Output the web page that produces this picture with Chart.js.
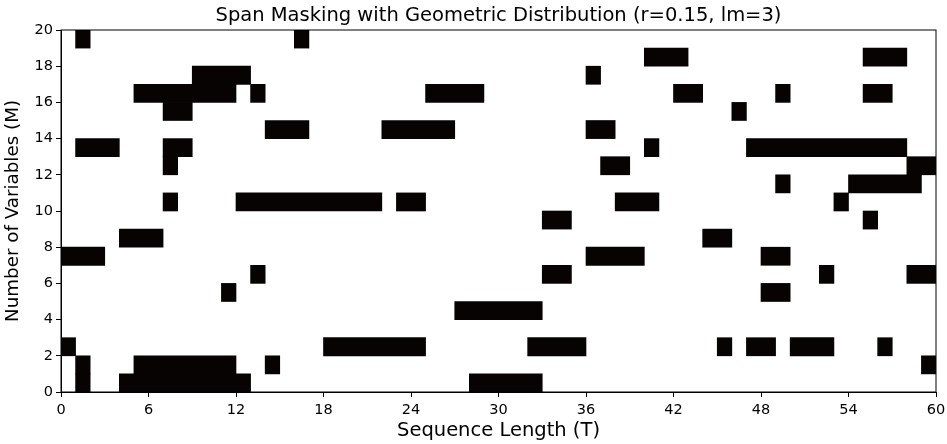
<!DOCTYPE html>
<html>
<head>
<meta charset="utf-8">
<script src="https://cdn.jsdelivr.net/npm/chart.js@4/dist/chart.umd.min.js"></script>
<style>
  body { margin: 0; background: #fff; }
  #wrap { width: 947px; height: 444px; }
</style>
</head>
<body>
<div id="wrap"><canvas id="chart" width="947" height="444"></canvas></div>
<script>
// masked spans: row (variable index), start column, end column (exclusive)
const spanRow   = [19, 19, 18, 18, 17, 17, 16, 16, 16, 16, 16, 16, 15, 15, 14, 14, 14, 13, 13, 13, 13, 12, 12, 12, 11, 11, 10, 10, 10, 10, 10, 9, 9, 8, 8, 7, 7, 7, 6, 6, 6, 6, 5, 5, 4, 2, 2, 2, 2, 2, 2, 2, 1, 1, 1, 1, 0, 0, 0];
const spanStart = [1, 16, 40, 55, 9, 36, 5, 13, 25, 42, 49, 55, 7, 46, 14, 22, 36, 1, 7, 40, 47, 7, 37, 58, 49, 54, 7, 12, 23, 38, 53, 33, 55, 4, 44, 0, 36, 48, 13, 33, 52, 58, 11, 48, 27, 0, 18, 32, 45, 47, 50, 56, 1, 5, 14, 59, 1, 4, 28];
const spanEnd   = [2, 17, 43, 58, 13, 37, 12, 14, 29, 44, 50, 57, 9, 47, 17, 27, 38, 4, 9, 41, 58, 8, 39, 60, 50, 59, 8, 22, 25, 41, 54, 35, 56, 7, 46, 3, 40, 50, 14, 35, 53, 60, 12, 50, 33, 1, 25, 36, 46, 49, 53, 57, 2, 12, 15, 60, 2, 13, 33];

const xTicks = [0, 6, 12, 18, 24, 30, 36, 42, 48, 54, 60];
const yTicks = [0, 2, 4, 6, 8, 10, 12, 14, 16, 18, 20];

const spans = spanRow.map((r, i) => ({ x: [spanStart[i], spanEnd[i]], y: r + 0.5 }));

const frame = {
  id: 'frame',
  afterDraw(chart) {
    const a = chart.chartArea, c = chart.ctx;
    c.save();
    c.strokeStyle = '#000';
    c.lineWidth = 1;
    c.strokeRect(a.left, a.top, a.right - a.left, a.bottom - a.top);
    c.restore();
  }
};

const tickFont = { family: 'DejaVu Sans', size: 14.5 };
const labelFont = { family: 'DejaVu Sans', size: 19.5 };

new Chart(document.getElementById('chart'), {
  type: 'bar',
  data: {
    datasets: [{
      data: spans,
      backgroundColor: '#070303',
      borderWidth: 0,
      barPercentage: 1,
      categoryPercentage: 1
    }]
  },
  options: {
    indexAxis: 'y',
    responsive: false,
    animation: false,
    layout: { padding: { left: 0, right: 11, top: 0, bottom: 0 } },
    plugins: {
      legend: { display: false },
      tooltip: { enabled: false }
    },
    scales: {
      x: {
        type: 'linear',
        min: 0, max: 60,
        afterBuildTicks: s => { s.ticks = xTicks.map(v => ({ value: v })); },
        afterFit: s => { s.height = 52; s.paddingLeft = 0; s.paddingRight = 0; },
        ticks: { color: '#000', font: tickFont, padding: 5, maxRotation: 0 },
        grid: { display: true, drawOnChartArea: false, tickLength: 5, color: '#000' },
        border: { color: '#000' },
        title: { display: true, text: 'Sequence Length (T)', color: '#000', font: labelFont, padding: { top: 0, bottom: 1 } }
      },
      // top axis only carries the chart title, centred over the plot area
      top: {
        type: 'linear',
        position: 'top',
        axis: 'x',
        min: 0, max: 60,
        afterFit: s => { s.height = 30; s.paddingLeft = 0; s.paddingRight = 0; },
        ticks: { display: false },
        grid: { display: false },
        border: { display: false },
        title: { display: true, text: 'Span Masking with Geometric Distribution (r=0.15, lm=3)', color: '#000', font: labelFont, padding: { top: 4, bottom: 0 } }
      },
      y: {
        type: 'linear',
        min: 0, max: 20,
        offset: false,
        afterBuildTicks: s => { s.ticks = yTicks.map(v => ({ value: v })); },
        afterFit: s => { s.width = 61; s.paddingTop = 0; s.paddingBottom = 0; },
        ticks: { color: '#000', font: tickFont, padding: 3 },
        grid: { display: true, drawOnChartArea: false, tickLength: 5, color: '#000', offset: false },
        border: { color: '#000' },
        title: { display: true, text: 'Number of Variables (M)', color: '#000', font: { family: 'DejaVu Sans', size: 18.3 }, padding: { top: 2, bottom: 0 } }
      }
    }
  },
  plugins: [frame]
});
</script>
</body>
</html>
